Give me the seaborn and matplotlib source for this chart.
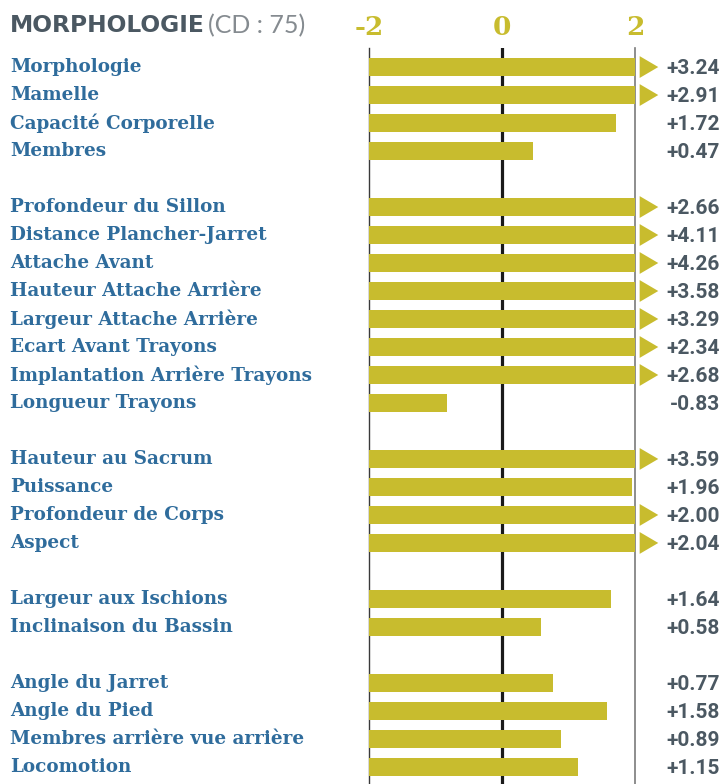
import matplotlib
matplotlib.use("Agg")
import matplotlib.pyplot as plt
import matplotlib.transforms as mtransforms
import numpy as np
import pandas as pd
import seaborn as sns

# groups of traits, separated by a blank row
groups = [
    ["Morphologie", "Mamelle", "Capacité Corporelle", "Membres"],
    ["Profondeur du Sillon", "Distance Plancher-Jarret", "Attache Avant",
     "Hauteur Attache Arrière", "Largeur Attache Arrière", "Ecart Avant Trayons",
     "Implantation Arrière Trayons", "Longueur Trayons"],
    ["Hauteur au Sacrum", "Puissance", "Profondeur de Corps", "Aspect"],
    ["Largeur aux Ischions", "Inclinaison du Bassin"],
    ["Angle du Jarret", "Angle du Pied", "Membres arrière vue arrière", "Locomotion"],
]
values = [
    [3.24, 2.91, 1.72, 0.47],
    [2.66, 4.11, 4.26, 3.58, 3.29, 2.34, 2.68, -0.83],
    [3.59, 1.96, 2.00, 2.04],
    [1.64, 0.58],
    [0.77, 1.58, 0.89, 1.15],
]
tick_values = [-2, 0, 2]
title = "MORPHOLOGIE"
subtitle = "(CD : 75)"

BAR = "#c8bc2e"
BLUE = "#2f6c9c"
GREY = "#4b5862"

order = []
traits, vals = [], []
for g, (names, vs) in enumerate(zip(groups, values)):
    if g > 0:
        order.append(f"_gap{g}")
    order.extend(names)
    traits.extend(names)
    vals.extend(vs)

df = pd.DataFrame({"trait": traits, "value": vals})
# axis starts at -2, bars run from -2 and are cut just past +2
df["shifted"] = df["value"].clip(-2, 2.03) + 2

W, H = 724, 784
fig = plt.figure(figsize=(W / 100, H / 100), dpi=100)
ax = fig.add_axes([369 / W, 0, 266 / W, (784 - 48) / H])

ax.axvline(0, color="#3a3a3a", lw=1.0, zorder=0, clip_on=False)
ax.axvline(2, color="#1a1a1a", lw=2.3, zorder=0)
ax.axvline(4, color="#7a7a7a", lw=1.2, zorder=0, clip_on=False)

sns.barplot(data=df, x="shifted", y="trait", order=order, orient="h",
            color=BAR, width=0.66, linewidth=0, saturation=1, ax=ax, zorder=2)

ax.set_xlim(0, 4)
ax.set_ylim(25.61, -0.68)

pos = {name: i for i, name in enumerate(order)}
lab_tr = mtransforms.blended_transform_factory(fig.transFigure, ax.transData)
for name, v in zip(traits, vals):
    y = pos[name]
    ax.text(10 / W, y, name, transform=lab_tr, ha="left", va="center",
            fontsize=13.2, fontweight="bold", family="DejaVu Serif", color=BLUE)
    ax.text(720 / W, y + 0.05, f"{v:+.2f}" if v >= 0 else f"{v:.2f}",
            transform=lab_tr, ha="right", va="center",
            fontsize=15, fontweight="bold", family="Roboto", color=GREY)
    if v >= 2:
        ax.fill([4.07, 4.07, 4.35], [y - 0.39, y + 0.39, y], color=BAR,
                lw=0, clip_on=False, zorder=3)

ax.set_xticks([t + 2 for t in tick_values])
ax.set_xticklabels([str(t) for t in tick_values], fontsize=19, fontweight="bold",
                   family="DejaVu Serif", color=BAR)
ax.xaxis.tick_top()
ax.tick_params(axis="x", length=0, pad=6)
ax.set_yticks([])
ax.set_xlabel("")
ax.set_ylabel("")
for s in ax.spines.values():
    s.set_visible(False)

fig.text(10 / W, 1 - 26 / H, title, ha="left", va="center", fontsize=16.8,
         fontweight="bold", family="DejaVu Sans", color=GREY)
fig.text(208 / W, 1 - 26 / H, subtitle, ha="left", va="center", fontsize=18,
         fontweight="normal", family="Lato", color="#858b90")

fig.savefig("out.png", dpi=100)
